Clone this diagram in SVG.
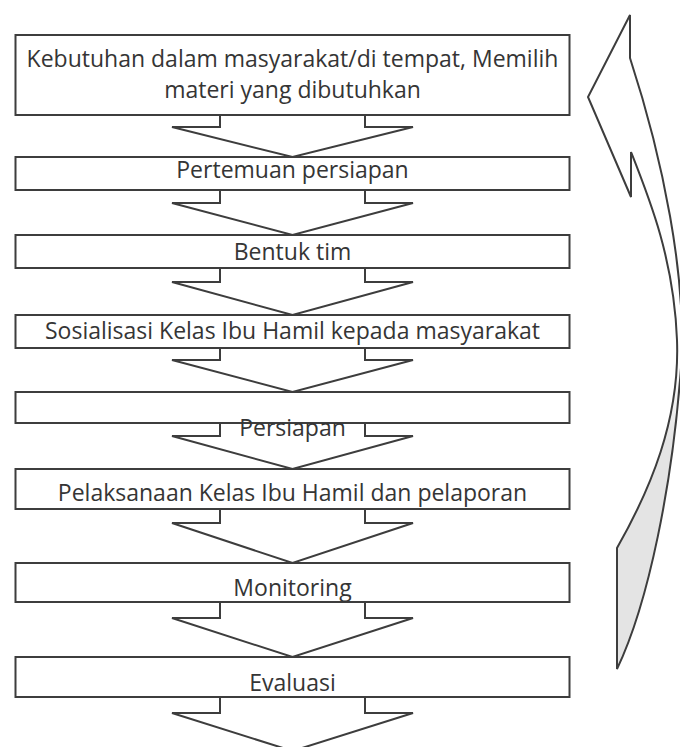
<svg xmlns="http://www.w3.org/2000/svg" width="680" height="747" viewBox="0 0 680 747">
<style>
.box{fill:#fff;stroke:#3d3d3d;stroke-width:2}
.chev{fill:#fff;stroke:#3d3d3d;stroke-width:2;stroke-linejoin:miter}
.lbl{font-family:"Open Sans",Lato,"Liberation Sans",sans-serif;font-size:23px;fill:#353535;text-anchor:middle}
.loop{stroke:#3d3d3d;stroke-width:2;stroke-linejoin:miter}
</style>
<defs>
<linearGradient id="shade" gradientUnits="userSpaceOnUse" x1="0" y1="360" x2="0" y2="440">
<stop offset="0" stop-color="#ffffff"/>
<stop offset="1" stop-color="#e4e4e4"/>
</linearGradient>
</defs>
<rect width="680" height="747" fill="#fff"/>
<g id="connectors">
<path class="chev" d="M220,110 L220,127 L172,127 L292.5,157 L413,127 L365,127 L365,110 Z"/>
<path class="chev" d="M220,185 L220,203 L172,203 L292.5,235 L413,203 L365,203 L365,185 Z"/>
<path class="chev" d="M220,263 L220,282 L172,282 L292.5,315 L413,282 L365,282 L365,263 Z"/>
<path class="chev" d="M220,343 L220,360 L172,360 L292.5,392 L413,360 L365,360 L365,343 Z"/>
<path class="chev" d="M220,418 L220,436 L172,436 L292.5,469 L413,436 L365,436 L365,418 Z"/>
<path class="chev" d="M220,504 L220,523 L172,523 L292.5,563 L413,523 L365,523 L365,504 Z"/>
<path class="chev" d="M220,597 L220,618 L172,618 L292.5,657 L413,618 L365,618 L365,597 Z"/>
<path class="chev" d="M220,692 L220,713 L172,713 L292.5,751 L413,713 L365,713 L365,692 Z"/>
<path id="cycle-arrow" class="loop" fill="url(#shade)" d="M630,15 L588,97 L631,197 L631,152 C650,200 674,260 677,340 C680,420 650,490 617,548 L617,669 C650,600 672,480 680,380 C690,280 660,150 630,58 Z"/>
</g>
<g id="n1"><rect class="box" x="15.5" y="35" width="554" height="80"/>
<text class="lbl" x="292.5" y="67">Kebutuhan dalam masyarakat/di tempat, Memilih</text>
<text class="lbl" x="292.5" y="98">materi yang dibutuhkan</text></g>
<g id="n2"><rect class="box" x="15.5" y="157" width="554" height="33"/>
<text class="lbl" x="292.5" y="178">Pertemuan persiapan</text></g>
<g id="n3"><rect class="box" x="15.5" y="235" width="554" height="33"/>
<text class="lbl" x="292.5" y="260">Bentuk tim</text></g>
<g id="n4"><rect class="box" x="15.5" y="315" width="554" height="33"/>
<text class="lbl" x="292.5" y="339">Sosialisasi Kelas Ibu Hamil kepada masyarakat</text></g>
<g id="n5"><rect class="box" x="15.5" y="392" width="554" height="31"/>
<text class="lbl" x="292.5" y="436">Persiapan</text></g>
<g id="n6"><rect class="box" x="15.5" y="469" width="554" height="40"/>
<text class="lbl" x="292.5" y="501">Pelaksanaan Kelas Ibu Hamil dan pelaporan</text></g>
<g id="n7"><rect class="box" x="15.5" y="563" width="554" height="39"/>
<text class="lbl" x="292.5" y="596">Monitoring</text></g>
<g id="n8"><rect class="box" x="15.5" y="657" width="554" height="40"/>
<text class="lbl" x="292.5" y="691">Evaluasi</text></g>
</svg>
